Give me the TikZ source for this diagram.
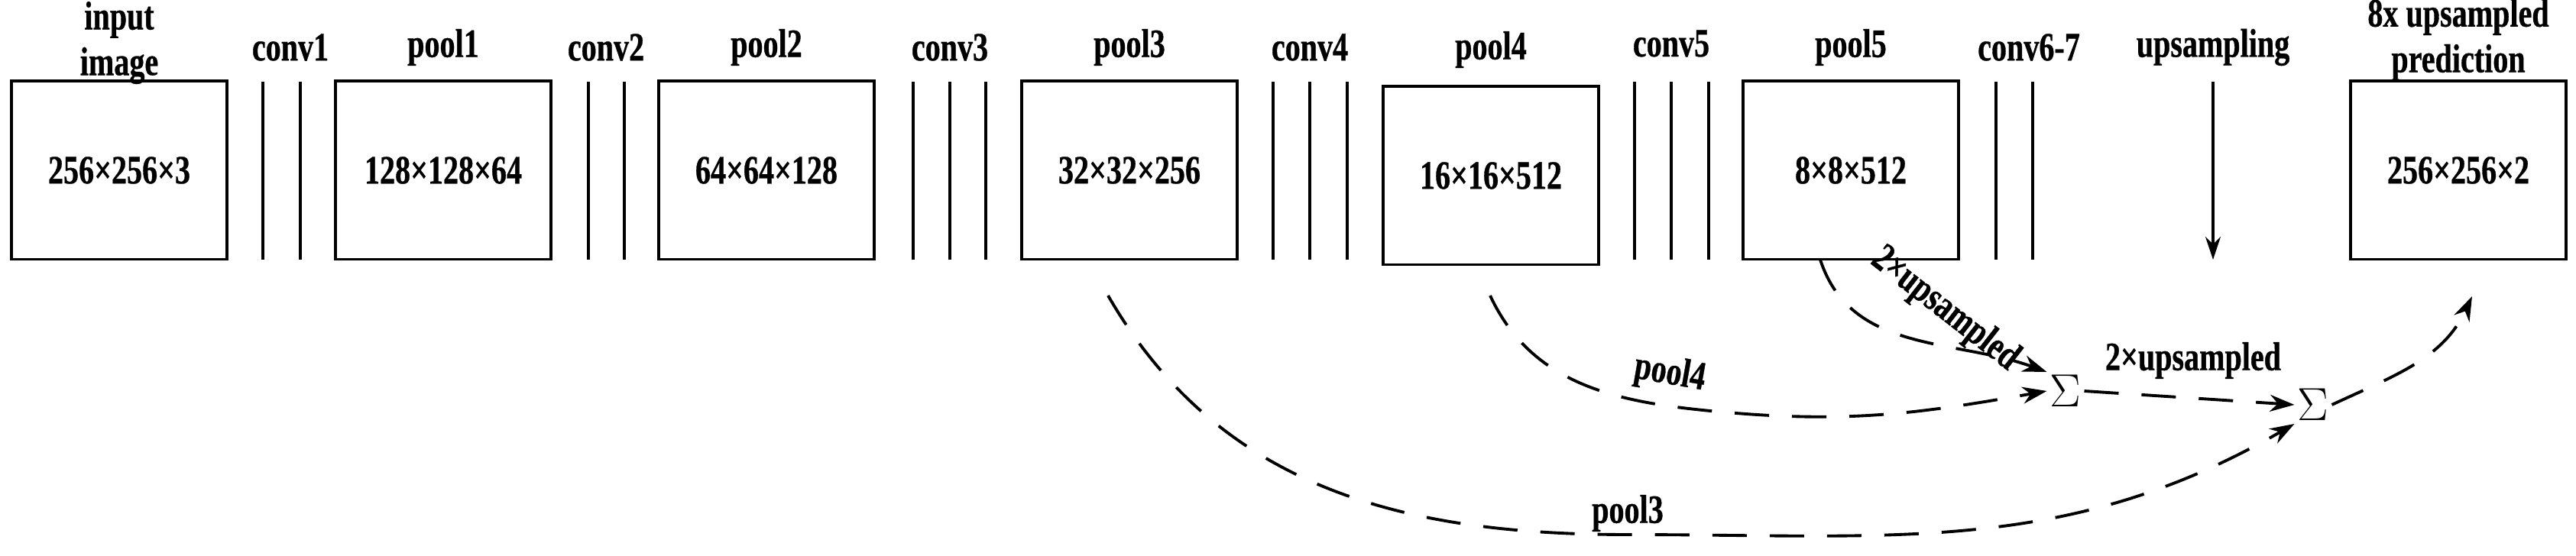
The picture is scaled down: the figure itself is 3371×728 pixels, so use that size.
\documentclass[tikz,border=0pt]{standalone}
\usepackage{fontspec}
\setmainfont{Liberation Serif}[FakeStretch=0.76,FakeBold=0.6]
\usetikzlibrary{arrows.meta}
\begin{document}
\begin{tikzpicture}[x=0.01cm,y=-0.01cm,
  box/.style={draw,line width=1.1pt,minimum width=2.82cm,minimum height=2.33cm,inner sep=0pt,font=\fontsize{15}{17}\selectfont\bfseries},
  lab/.style={font=\fontsize{15}{16}\selectfont\bfseries,align=center,inner sep=0pt},
  cl/.style={line width=0.9pt},
  dsh/.style={line width=1.1pt,dash pattern=on 0.45cm off 0.3cm,-{Stealth[length=0.32cm,width=0.22cm]}},
  sig/.style={font=\fontsize{18}{18}\selectfont,inner sep=1pt}]
\useasboundingbox (0,0) rectangle (3371,728);
\node[box] (in) at (156,223) {256×256×3};
\node[box] (p1) at (580,223) {128×128×64};
\node[box] (p2) at (1003,223) {64×64×128};
\node[box] (p3) at (1478,223) {32×32×256};
\node[box] (p4) at (1951,230) {16×16×512};
\node[box] (p5) at (2422,223) {8×8×512};
\node[box] (out) at (3217,223) {256×256×2};
\foreach \x in {344,393,770,817,1195,1243,1290,1666,1714,1763,2139,2187,2236,2612,2660}
  \draw[cl] (\x,107) -- (\x,340);
\node[lab] (lin) at (156,56) {input\\[1pt]image};
\node[lab] at (380,62) (lc1) {conv1};
\node[lab] at (580,62) (lp1) {pool1};
\node[lab] at (793,62) (lc2) {conv2};
\node[lab] at (1003,62) (lp2) {pool2};
\node[lab] at (1243,62) (lc3) {conv3};
\node[lab] at (1478,62) (lp3) {pool3};
\node[lab] at (1714,62) (lc4) {conv4};
\node[lab] at (1951,65) (lp4) {pool4};
\node[lab] at (2187,57) (lc5) {conv5};
\node[lab] at (2422,62) (lp5) {pool5};
\node[lab] at (2655,62) (lc6) {conv6-7};
\node[lab] at (2896,62) (lup) {upsampling};
\node[lab] at (3217,52) (lout) {8x upsampled\\[1pt]prediction};
\coordinate (ua) at (2896,107);
\coordinate (ub) at (2896,340);
\draw[line width=0.9pt,-{Stealth[length=0.3cm,width=0.2cm]}] (ua) -- (ub);
\node[sig] (s1) at (2703,512) {$\Sigma$};
\node[sig] (s2) at (3027,530) {$\Sigma$};
\coordinate (p3s) at (1450,387);
\coordinate (p4s) at (1950,387);
\coordinate (p5s) at (2382,340);
\coordinate (oe) at (3235,388);
\draw[dsh] (p3s) to[out=-60,in=180] (2130,700) to[out=0,in=-150] (s2.south west);
\draw[dsh] (p4s) to[out=-65,in=175] (2260,540) to[out=-5,in=190] (s1.west);
\draw[dsh] (p5s) to[out=-72,in=160] (s1.north west);
\draw[dsh] (s1.east) -- (s2.west);
\draw[dsh] (s2.east) to[out=25,in=-115] (oe);
\node[lab,rotate=-10] at (2185,490) {pool4};
\node[lab] at (2130,672) {pool3};
\node[lab,rotate=-38] at (2545,405) {2×upsampled};
\node[lab] at (2870,472) {2×upsampled};
\end{tikzpicture}
\end{document}
